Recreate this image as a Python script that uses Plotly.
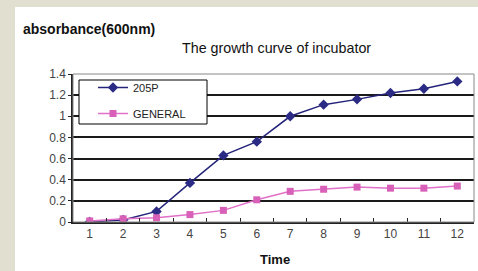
import plotly.graph_objects as go

times = ["1", "2", "3", "4", "5", "6", "7", "8", "9", "10", "11", "12"]
p205 = [0.0, 0.02, 0.10, 0.37, 0.63, 0.76, 1.0, 1.11, 1.16, 1.22, 1.26, 1.33]
general = [0.01, 0.03, 0.04, 0.07, 0.11, 0.21, 0.29, 0.31, 0.33, 0.32, 0.32, 0.34]
yticks = [0, 0.2, 0.4, 0.6, 0.8, 1, 1.2, 1.4]
yticktext = ["0", "0.2", "0.4", "0.6", "0.8", "1", "1.2", "1.4"]

L, R, T, B = 73, 4, 74, 49
W, H = 478, 271
pw, ph = W - L - R, H - T - B

def px(x):
    return (x - L) / pw

def py(y):
    return (H - B - y) / ph

fig = go.Figure()
fig.add_trace(go.Scatter(
    x=times, y=p205, name="205P", mode="lines+markers",
    line=dict(color="#24247a", width=1.5),
    marker=dict(symbol="diamond", size=8, color="#2b2b85"),
    legendgroup="a"))
fig.add_trace(go.Scatter(
    x=times, y=general, name="GENERAL", mode="lines+markers",
    line=dict(color="#e070c8", width=1.5),
    marker=dict(symbol="square", size=7, color="#d860b8"),
    legendgroup="b"))

fig.update_layout(
    width=W, height=H,
    margin=dict(l=L, r=R, t=T, b=B, pad=0),
    paper_bgcolor="#e0dfd0",
    plot_bgcolor="#d8d8d8",
    font=dict(family="Liberation Sans, Arial, sans-serif", size=12, color="#333"),
    showlegend=True,
    legend=dict(
        x=px(93), y=py(73), xanchor="left", yanchor="top",
        bgcolor="rgba(0,0,0,0)", borderwidth=0,
        font=dict(size=11, color="#222"),
        traceorder="grouped", tracegroupgap=7,
    ),
    xaxis=dict(
        type="category", range=[-0.5, 11.5], showgrid=False,
        ticks="inside", tickson="boundaries", ticklen=4, tickcolor="#222",
        showline=True, linecolor="#222", linewidth=1.5, mirror=False,
        tickfont=dict(size=12, color="#444"), zeroline=False,
    ),
    yaxis=dict(
        range=[0, 1.4], tickvals=yticks, ticktext=yticktext,
        showgrid=True, gridcolor="#1a1a1a", gridwidth=1.5,
        ticks="outside", ticklen=3, tickcolor="#222",
        showline=True, linecolor="#222", linewidth=1.5,
        tickfont=dict(size=12, color="#444"), zeroline=False,
    ),
    shapes=[
        dict(type="rect", xref="paper", yref="paper", layer="below",
             x0=px(15), x1=px(500), y0=py(300), y1=py(7),
             fillcolor="white", line=dict(width=0)),
        dict(type="rect", xref="paper", yref="paper", layer="above",
             x0=0, x1=1, y0=0, y1=1,
             line=dict(color="#888", width=1)),
        dict(type="rect", xref="paper", yref="paper", layer="above",
             x0=px(79), x1=px(207), y0=py(124), y1=py(80),
             fillcolor="white", line=dict(color="black", width=1)),
    ],
    annotations=[
        dict(text="<b>absorbance(600nm)</b>", xref="paper", yref="paper",
             x=px(21), y=py(29), xanchor="left", yanchor="middle",
             showarrow=False, font=dict(size=14, color="#111")),
        dict(text="The growth curve of incubator", xref="paper", yref="paper",
             x=px(276), y=py(48), xanchor="center", yanchor="middle",
             showarrow=False, font=dict(size=14.3, color="#111")),
        dict(text="<b>Time</b>", xref="paper", yref="paper",
             x=px(275), y=py(259), xanchor="center", yanchor="middle",
             showarrow=False, font=dict(size=13, color="#111")),
    ],
)

fig.write_html("out.html", config={"displayModeBar": False},
               post_script="document.body.style.margin='0';document.body.style.padding='0';")
